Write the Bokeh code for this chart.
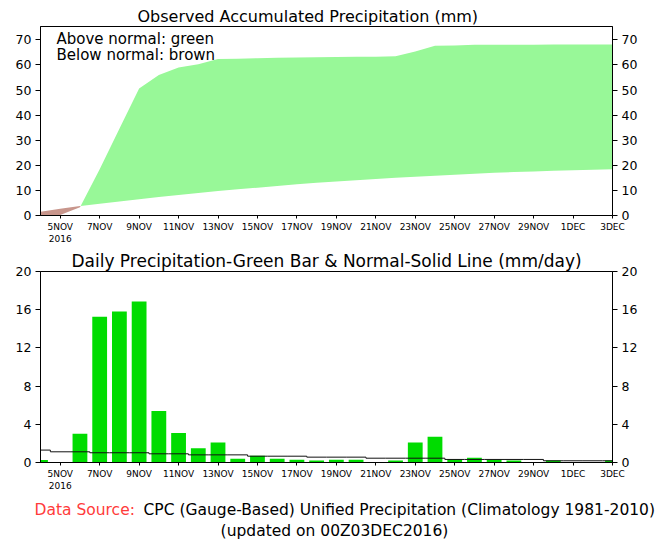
import numpy as np
from bokeh.plotting import figure
from bokeh.models import Range1d, LinearAxis, FixedTicker, Label, Title
from bokeh.core.properties import value
from bokeh.layouts import column
from bokeh.embed import file_html
from bokeh.resources import INLINE

# ---- data (day of November 2016; 31 = 1 Dec, 33 = 3 Dec) ----
days = [4, 5, 6, 7, 8, 9, 10, 11, 12, 13, 14, 15, 16, 17, 18, 19, 20, 21, 22,
        23, 24, 25, 26, 27, 28, 29, 30, 31, 32, 33]
obs_accum = [0.1, 0.2, 3.3, 18.4, 34.6, 50.6, 56.0, 59.0, 60.3, 62.4, 62.5, 62.7,
             62.8, 62.9, 63.0, 63.1, 63.2, 63.2, 63.4, 65.3, 67.6, 67.7, 68.0,
             68.0, 68.0, 68.0, 68.1, 68.1, 68.1, 68.1]
normal_accum = [1.5, 2.7, 3.8, 4.7, 5.6, 6.5, 7.4, 8.2, 9.0, 9.8, 10.5, 11.1,
                11.8, 12.5, 13.0, 13.5, 14.0, 14.5, 15.0, 15.4, 15.8, 16.2, 16.6,
                17.0, 17.3, 17.5, 17.8, 18.0, 18.2, 18.4]
daily_obs = [0.25, 0.0, 3.0, 15.25, 15.8, 16.85, 5.4, 3.1, 1.5, 2.1, 0.4, 0.7,
             0.4, 0.3, 0.2, 0.3, 0.3, 0.0, 0.2, 2.1, 2.7, 0.35, 0.5, 0.3, 0.2,
             0.0, 0.2, 0.05, 0.05, 0.2]
daily_normal = [1.3, 1.12, 1.12, 1.02, 1.02, 1.02, 0.91, 0.91, 0.8, 0.8, 0.8,
                0.66, 0.66, 0.66, 0.56, 0.56, 0.56, 0.45, 0.45, 0.45, 0.45,
                0.32, 0.32, 0.32, 0.32, 0.32, 0.18, 0.18, 0.18, 0.18]
tick_days = [5, 7, 9, 11, 13, 15, 17, 19, 21, 23, 25, 27, 29, 31, 33]
tick_labels = ["5NOV\n2016", "7NOV", "9NOV", "11NOV", "13NOV", "15NOV", "17NOV",
               "19NOV", "21NOV", "23NOV", "25NOV", "27NOV", "29NOV", "1DEC", "3DEC"]
acc_ticks = [0, 10, 20, 30, 40, 50, 60, 70]
daily_ticks = [0, 4, 8, 12, 16, 20]

FONT = "DejaVu Sans"
GREEN_FILL = "#98F898"
BROWN_FILL = "#C8968C"
BAR_GREEN = "#00DC00"
RED_TEXT = "#FF3B3B"
W = 653
FW = 661


def split_fill(x, a, b):
    xs, A, B = [x[0]], [a[0]], [b[0]]
    for i in range(1, len(x)):
        d0 = a[i - 1] - b[i - 1]
        d1 = a[i] - b[i]
        if d0 * d1 < 0:
            t = d0 / (d0 - d1)
            xc = x[i - 1] + t * (x[i] - x[i - 1])
            yc = b[i - 1] + t * (b[i] - b[i - 1])
            xs.append(xc); A.append(yc); B.append(yc)
        xs.append(x[i]); A.append(a[i]); B.append(b[i])
    A = np.array(A); B = np.array(B)
    return xs, B, np.maximum(A, B), np.minimum(A, B)


def style_axis(ax, ticks, size="12.5px", tick_out=5, standoff=4):
    ax.ticker = FixedTicker(ticks=ticks)
    ax.major_tick_out = tick_out
    ax.major_tick_in = 0
    ax.minor_tick_out = 0
    ax.minor_tick_in = 0
    ax.axis_line_color = "black"
    ax.major_tick_line_color = "black"
    ax.major_label_text_font = FONT
    ax.major_label_text_font_size = size
    ax.major_label_text_color = "black"
    ax.major_label_standoff = standoff


def base_fig(height, ymax, yticks, top, bottom, title, align, offset, tsize):
    p = figure(width=W, height=height, output_backend="svg", toolbar_location=None,
               x_range=Range1d(days[0], days[-1]), y_range=Range1d(0, ymax),
               min_border_left=40, min_border_right=41, min_border_top=top,
               min_border_bottom=bottom)
    p.title = Title(text=title, align=align, offset=offset, standoff=1,
                    text_font=FONT, text_font_size=tsize, text_font_style="normal",
                    text_color="black")
    p.grid.visible = False
    p.outline_line_color = "black"
    p.outline_line_width = 1
    p.background_fill_color = "white"
    p.border_fill_color = "white"
    style_axis(p.yaxis[0], yticks)
    r = LinearAxis()
    style_axis(r, yticks)
    p.add_layout(r, "right")
    xa = p.xaxis[0]
    style_axis(xa, tick_days, size="9px", tick_out=3, standoff=3)
    xa.major_label_overrides = dict(zip(tick_days, tick_labels))
    return p


def add_text(p, x, y, text, size="15px", align="left", color="black"):
    p.add_layout(Label(x=x, y=y, x_units="screen", y_units="screen", text=text,
                       text_font=FONT, text_font_size=size, text_align=align,
                       text_baseline="middle", text_color=color))


# ---- top: accumulated ----
p1 = base_fig(248, 75.3, acc_ticks, 26, 33,
              "Observed Accumulated Precipitation (mm)", "left", 97, "16px")
xs, lower, upper_g, lower_b = split_fill(days, obs_accum, normal_accum)
p1.varea(x=xs, y1=lower, y2=upper_g, fill_color=GREEN_FILL)
p1.varea(x=xs, y1=lower_b, y2=lower, fill_color=BROWN_FILL)
add_text(p1, 16, 177, "Above normal: green")
add_text(p1, 16, 161, "Below normal: brown")

# ---- bottom: daily ----
p2 = base_fig(247, 20, daily_ticks, 23, 33,
              "Daily Precipitation-Green Bar & Normal-Solid Line (mm/day)",
              "center", 0, "17px")
p2.vbar(x=days, top=daily_obs, width=0.75, fill_color=BAR_GREEN, line_color=None)
p2.step(x=days, y=daily_normal, mode="center", line_color="#111111", line_width=1)

# ---- footer ----
FH = 45
p3 = figure(width=FW, height=FH, output_backend="svg", toolbar_location=None,
            x_range=Range1d(0, FW), y_range=Range1d(0, FH),
            x_axis_location=None, y_axis_location=None,
            min_border_left=0, min_border_right=0, min_border_top=0,
            min_border_bottom=0)
p3.frame_align = False
p3.grid.visible = False
p3.outline_line_color = None
p3.text(x=[34], y=[FH - 14], text=["Data Source:"], text_font=value(FONT),
        text_font_size="15.5px", text_color=RED_TEXT, text_baseline="middle",
        text_align="left")
p3.text(x=[143], y=[FH - 14],
        text=["CPC (Gauge-Based) Unified Precipitation (Climatology 1981-2010)"],
        text_font=value(FONT), text_font_size="15.5px", text_color="black",
        text_baseline="middle", text_align="left")
p3.text(x=[334], y=[FH - 35], text=["(updated on 00Z03DEC2016)"], text_font=value(FONT),
        text_font_size="15.5px", text_color="black", text_baseline="middle",
        text_align="center")

layout = column(p1, p2, p3, spacing=0)
open("out.html", "w").write(file_html(layout, INLINE))
